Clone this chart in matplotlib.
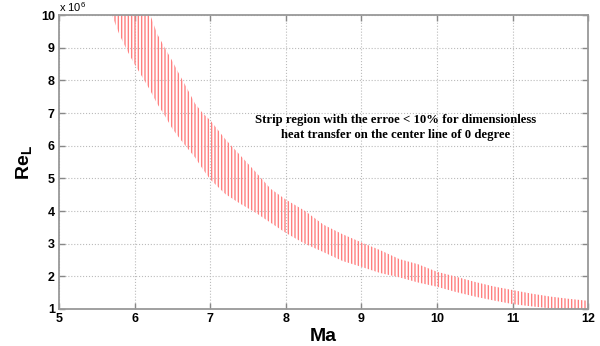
import numpy as np
import matplotlib
matplotlib.use('Agg')
import matplotlib.pyplot as plt

ma = [5.7, 5.8, 5.9, 6.0, 6.1, 6.2, 6.3, 6.4, 6.5, 6.6, 6.7, 6.8, 6.9, 7.0,
      7.2, 7.4, 7.6, 7.8, 8.0, 8.25, 8.5, 8.75, 9.0, 9.25, 9.5, 9.75,
      10.0, 10.25, 10.5, 10.75, 11.0, 11.25, 11.5, 11.75, 12.0]
# lower edge of strip (x 10^6)
re_low = [10.0, 9.40, 8.92, 8.49, 8.11, 7.72, 7.28, 6.92, 6.52, 6.21, 5.92, 5.64, 5.29, 4.97,
          4.52, 4.22, 3.95, 3.64, 3.33, 3.00, 2.74, 2.47, 2.29, 2.10, 1.97, 1.81,
          1.68, 1.52, 1.38, 1.26, 1.15, 1.08, 1.02, 0.99, 0.97]
# upper edge of strip (x 10^6)
re_high = [12.6, 12.1, 11.6, 11.05, 10.55, 10.05, 9.42, 9.00, 8.59, 8.15, 7.73, 7.29, 7.00, 6.78,
           6.20, 5.70, 5.20, 4.68, 4.35, 4.01, 3.58, 3.29, 3.04, 2.80, 2.53, 2.37,
           2.14, 1.99, 1.83, 1.69, 1.58, 1.47, 1.38, 1.31, 1.25]

xticks = [5, 6, 7, 8, 9, 10, 11, 12]
yticks = [1, 2, 3, 4, 5, 6, 7, 8, 9, 10]
note = 'Strip region with the erroe < 10% for dimensionless\nheat transfer on the center line of 0 degree'

plt.rcParams['font.family'] = 'Liberation Sans'
plt.rcParams['mathtext.fontset'] = 'custom'
plt.rcParams['mathtext.bf'] = 'Liberation Sans:bold'
plt.rcParams['mathtext.rm'] = 'Liberation Sans'
plt.rcParams['hatch.linewidth'] = 1.0

fig = plt.figure(figsize=(6, 3.46), dpi=100)
ax = fig.add_axes([0.0983, 0.107, 0.882, 0.8494])

ax.fill_between(ma, re_low, re_high, facecolor='none', edgecolor='#ff8080',
                hatch='|||||', linewidth=0, zorder=2)

ax.set_xlim(5, 12)
ax.set_ylim(1, 10)
ax.set_xticks(xticks)
ax.set_yticks(yticks)
ax.set_xticklabels([str(t) for t in xticks], fontsize=9, fontweight='bold')
ax.set_yticklabels([str(t) for t in yticks], fontsize=9, fontweight='bold')
ax.tick_params(direction='in', length=4, width=1, color='#888888',
               top=True, right=True, pad=3)
ax.grid(True, linestyle=':', color='#bbbbbb', linewidth=0.8)
ax.set_axisbelow(True)
for s in ax.spines.values():
    s.set_color('#999999')
    s.set_linewidth(1.3)

ax.text(0.0, 1.005, r'x 10$^6$', transform=ax.transAxes, fontsize=8,
        ha='left', va='bottom')

ax.set_xlabel('Ma', fontsize=14, fontweight='bold', labelpad=2)
ax.set_ylabel(r'$\mathbf{Re_L}$', fontsize=14, labelpad=5)

ax.text(9.45, 6.56, note, fontsize=9.2, fontweight='bold', family='Liberation Serif',
        ha='center', va='center', linespacing=1.3)

plt.savefig('out.png', dpi=100)
